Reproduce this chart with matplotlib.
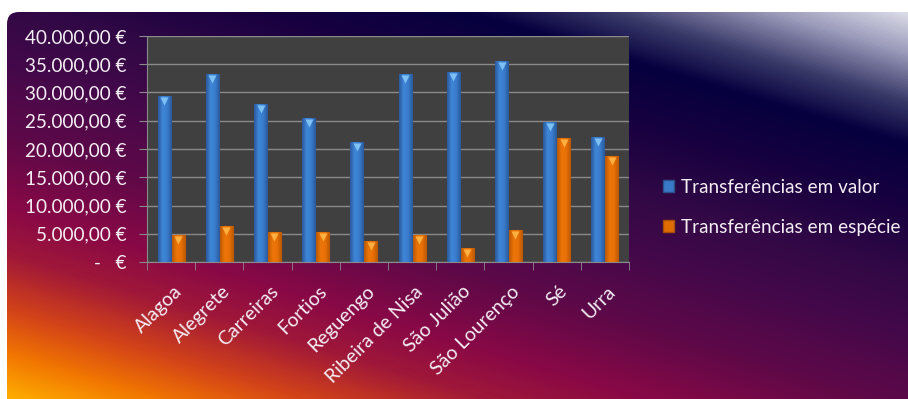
import numpy as np
import matplotlib
matplotlib.use("Agg")
import matplotlib.pyplot as plt
from matplotlib.colors import LinearSegmentedColormap
from matplotlib.patches import FancyBboxPatch, Patch
from matplotlib.ticker import FuncFormatter, MultipleLocator
from matplotlib.transforms import ScaledTranslation

# Dados
freguesias = ['Alagoa', 'Alegrete', 'Carreiras', 'Fortios', 'Reguengo',
              'Ribeira de Nisa', 'São Julião', 'São Lourenço', 'Sé', 'Urra']
em_valor = [29400, 33200, 28000, 25500, 21300, 33200, 33600, 35500, 24800, 22100]
em_especie = [4700, 6400, 5300, 5300, 3700, 4700, 2400, 5600, 21900, 18800]
series = ['Transferências em valor', 'Transferências em espécie']

plt.rcParams['font.family'] = ['Lato', 'DejaVu Sans']
txt = '#f4eef4'

W, H = 908, 399
fig = plt.figure(figsize=(W / 100, H / 100), dpi=100)
fig.patch.set_facecolor('white')

# Fundo em gradiente
bg = fig.add_axes([0, 0, 1, 1], zorder=0)
bg.set_xlim(0, W)
bg.set_ylim(0, H)
bg.axis('off')
xx, yy = np.meshgrid(np.arange(W) + 0.5, np.arange(H) + 0.5)
q = 0.3 * xx + yy
stops = [(0, '#ffb000'), (45, '#f27800'), (90, '#d44418'), (145, '#a01838'),
         (195, '#880846'), (260, '#600848'), (330, '#46084a'), (400, '#300845'),
         (470, '#160040'), (528, '#06003e'), (570, '#383868'), (620, '#9c9cbc'),
         (665, '#e4e4ee')]
cmap_bg = LinearSegmentedColormap.from_list(
    'bg', [(s / 665, c) for s, c in stops])
img = cmap_bg(np.clip(q / 665, 0, 1))
panel = FancyBboxPatch((7, -30), W + 30, 387 + 30,
                       boxstyle='round,pad=0,rounding_size=12',
                       facecolor='none', edgecolor='none')
bg.add_patch(panel)
im = bg.imshow(img, extent=(0, W, 0, H), origin='lower', aspect='auto')
im.set_clip_path(panel)
bg.set_xlim(0, W)
bg.set_ylim(0, H)

# Grafico
ax = fig.add_axes([147 / W, 137 / H, 482 / W, 226 / H], zorder=1)
ax.set_facecolor('#404040')

x = np.arange(len(freguesias))
w = 0.27
b1 = ax.bar(x - 0.145, em_valor, w, color='#3a78c8', edgecolor='#2a5288',
            linewidth=0.8, zorder=3)
b2 = ax.bar(x + 0.145, em_especie, w, color='#e06c04', edgecolor='#a84e00',
            linewidth=0.8, zorder=3)

# gradiente horizontal nas barras
cm_blue = LinearSegmentedColormap.from_list('b', ['#2a5a9c', '#3f86d8', '#3a7ccc', '#2a5a9c'])
cm_or = LinearSegmentedColormap.from_list('o', ['#b85800', '#ee7608', '#e87008', '#b85800'])
grad = np.linspace(0, 1, 32).reshape(1, -1)
for bars, cm in [(b1, cm_blue), (b2, cm_or)]:
    for r in bars:
        gi = ax.imshow(grad, cmap=cm, aspect='auto', zorder=3.5,
                       extent=(r.get_x(), r.get_x() + r.get_width(), 0, r.get_height()))
        gi.set_clip_path(r)

# topo em bisel
off = ScaledTranslation(0, -3.5 / 72, fig.dpi_scale_trans)
ax.scatter(x - 0.145, em_valor, marker='v', s=34, color='#7cc0f4',
           transform=ax.transData + off, zorder=4, linewidths=0)
ax.scatter(x + 0.145, em_especie, marker='v', s=34, color='#ffb040',
           transform=ax.transData + off, zorder=4, linewidths=0)

ax.set_xlim(-0.5, len(freguesias) - 0.5)
ax.set_ylim(0, 40000)
ax.yaxis.set_major_locator(MultipleLocator(5000))
ax.grid(axis='y', color='#8a8a8a', linewidth=1, zorder=1)


def euro(v, pos):
    if v == 0:
        return '-   €'
    s = f'{v:,.2f}'.replace(',', 'X').replace('.', ',').replace('X', '.')
    return s + ' €'


ax.yaxis.set_major_formatter(FuncFormatter(euro))
ax.set_xticks(x)
ax.set_xticklabels(freguesias, rotation=45, ha='right', rotation_mode='anchor')
ax.set_xticks(np.arange(len(freguesias) + 1) - 0.5, minor=True)
ax.tick_params(axis='x', which='major', length=0, pad=15, labelsize=14, labelcolor=txt)
ax.tick_params(axis='x', which='minor', length=6, color='#8a8a8a')
ax.tick_params(axis='y', length=6, color='#8a8a8a', labelsize=13.6, labelcolor=txt, pad=9)
shift = ScaledTranslation(2 / 100, 0, fig.dpi_scale_trans)
for lb in ax.get_xticklabels():
    lb.set_transform(lb.get_transform() + shift)
for s in ['top', 'right']:
    ax.spines[s].set_visible(False)
for s in ['left', 'bottom']:
    ax.spines[s].set_color('#8a8a8a')

handles = [Patch(facecolor='#3a78c8', edgecolor='#2a5288'),
           Patch(facecolor='#e06c04', edgecolor='#a84e00')]
fig.legend(handles, series, loc='center left', bbox_to_anchor=(646 / W, 0.48),
           frameon=False, fontsize=13.6, labelcolor=txt, labelspacing=1.2,
           handlelength=0.6, handleheight=0.6, handletextpad=0.35)

fig.savefig('out.png', dpi=100)
